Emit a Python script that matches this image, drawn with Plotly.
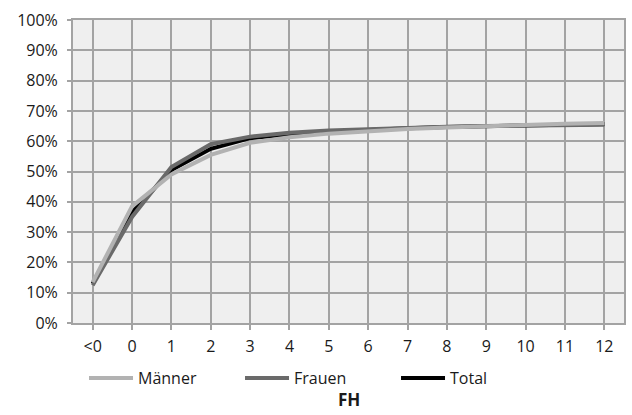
import plotly.graph_objects as go

categories = ["<0"] + [str(i) for i in range(0, 13)]
maenner = [13.5, 38.5, 49.0, 55.5, 59.5, 61.3, 62.5, 63.3, 64.0, 64.5, 65.0, 65.5, 65.8, 66.0]
frauen = [12.5, 35.0, 51.5, 59.0, 61.5, 62.8, 63.5, 64.0, 64.5, 64.8, 65.0, 65.2, 65.3, 65.4]
total = [13.0, 36.5, 50.5, 57.5, 61.0, 62.3, 63.1, 63.8, 64.3, 64.7, 65.0, 65.3, 65.5, 65.7]
y_ticks = list(range(0, 101, 10))
y_labels = [f"{v}%" for v in y_ticks]

grid = "#a3a3a3"
fig = go.Figure()
fig.add_trace(go.Scatter(x=categories, y=total, name="Total", mode="lines",
                         line=dict(color="#000000", width=4), legendrank=3))
fig.add_trace(go.Scatter(x=categories, y=frauen, name="Frauen", mode="lines",
                         line=dict(color="#6a6a6a", width=4), legendrank=2))
fig.add_trace(go.Scatter(x=categories, y=maenner, name="Männer", mode="lines",
                         line=dict(color="#b2b2b2", width=4), legendrank=1))

fig.update_layout(
    width=632, height=415,
    margin=dict(l=73, r=8, t=20, b=92, autoexpand=False),
    paper_bgcolor="white", plot_bgcolor="#efefef",
    font=dict(family="Open Sans", size=16, color="#1a1a1a"),
    showlegend=True,
    legend=dict(orientation="h", x=0.02, xanchor="left",
                yref="container", y=0.089, yanchor="middle",
                font=dict(size=16), itemwidth=44, bgcolor="rgba(0,0,0,0)",
                entrywidthmode="pixels", entrywidth=97),
    xaxis=dict(type="category", range=[-0.5, 13.5], showgrid=True,
               gridcolor=grid, gridwidth=1.5, ticks="outside", ticklen=5,
               tickcolor=grid, tickwidth=1.5, showline=True, linecolor=grid,
               linewidth=2, mirror=True, tickfont=dict(size=16), automargin=False,
               ticklabelstandoff=3),
    yaxis=dict(range=[0, 100], tickvals=y_ticks, ticktext=y_labels,
               showgrid=True, gridcolor=grid, gridwidth=1.5, ticks="outside",
               ticklen=4, tickcolor=grid, tickwidth=1.5, showline=True,
               linecolor=grid, linewidth=2, mirror=True, zeroline=False,
               tickfont=dict(size=16), automargin=False, ticklabelstandoff=6),
    annotations=[dict(text="<b>FH</b>", x=0.5, xref="paper", y=-0.254,
                      yref="paper", yanchor="middle", showarrow=False,
                      font=dict(size=17, color="#1a1a1a"))],
)
fig.write_html("out.html", config={"displayModeBar": False},
               post_script="document.body.style.margin='0';")
